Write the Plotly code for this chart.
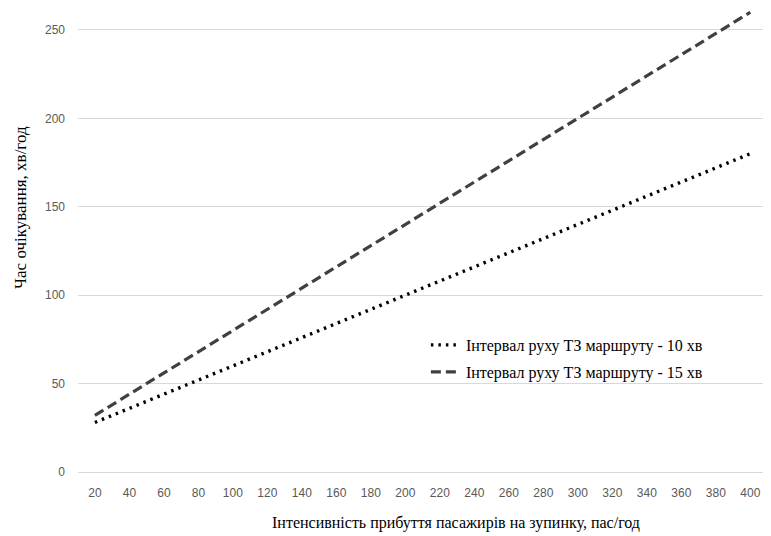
import plotly.graph_objects as go

categories = [20, 40, 60, 80, 100, 120, 140, 160, 180, 200, 220, 240, 260, 280, 300, 320, 340, 360, 380, 400]
interval_10 = [28, 36, 44, 52, 60, 68, 76, 84, 92, 100, 108, 116, 124, 132, 140, 148, 156, 164, 172, 180]
interval_15 = [32, 44, 56, 68, 80, 92, 104, 116, 128, 140, 152, 164, 176, 188, 200, 212, 224, 236, 248, 260]
y_ticks = [0, 50, 100, 150, 200, 250]

cat_labels = [str(c) for c in categories]

fig = go.Figure()
fig.add_trace(go.Scatter(
    x=cat_labels, y=interval_10, mode="lines",
    name="Інтервал руху ТЗ маршруту - 10 хв",
    line=dict(color="#000000", width=3.4, dash="2.5px,5px"),
    legend="legend",
))
fig.add_trace(go.Scatter(
    x=cat_labels, y=interval_15, mode="lines",
    name="Інтервал руху ТЗ маршруту - 15 хв",
    line=dict(color="#404040", width=3.2, dash="10px,5px"),
    legend="legend2",
))

tick_font = dict(family="Liberation Sans, Arial, sans-serif", size=12, color="#595959")
serif = "Liberation Serif, Times New Roman, serif"
leg_font = dict(family=serif, size=16, color="#000000")

PW, PH = 693, 464  # plot area size in px

# page body has an 8px margin, so the figure is sized 8px smaller
fig.update_layout(
    width=763, height=528,
    margin=dict(l=70, r=0, t=0, b=64),
    paper_bgcolor="white", plot_bgcolor="white",
    showlegend=True,
    legend=dict(x=0.502, y=(472 - 345) / PH, xanchor="left", yanchor="middle", font=leg_font,
                bgcolor="rgba(0,0,0,0)", itemwidth=30),
    legend2=dict(x=0.502, y=(472 - 372) / PH, xanchor="left", yanchor="middle", font=leg_font,
                 bgcolor="rgba(0,0,0,0)", itemwidth=30),
    xaxis=dict(
        type="category", range=[-0.49, 19.6], automargin=False,
        showgrid=False, zeroline=False, showline=False,
        ticks="", tickfont=tick_font, ticklabelstandoff=12,
    ),
    yaxis=dict(
        range=[0, 262.4], tickvals=y_ticks, automargin=False,
        showgrid=True, gridcolor="#d9d9d9", gridwidth=1,
        zeroline=True, zerolinecolor="#d9d9d9", zerolinewidth=1,
        showline=False, ticks="", tickfont=tick_font, ticklabelstandoff=12,
    ),
    annotations=[
        dict(text="Час очікування, хв/год", xref="paper", yref="paper",
             x=-58 / PW, y=(472 - 208) / PH, xanchor="center", yanchor="middle",
             textangle=-90, showarrow=False,
             font=dict(family=serif, size=17, color="#000000")),
        dict(text="Інтенсивність прибуття пасажирів на зупинку, пас/год", xref="paper", yref="paper",
             x=(456 - 78) / PW, y=-51 / PH, xanchor="center", yanchor="middle",
             showarrow=False,
             font=dict(family=serif, size=16, color="#000000")),
    ],
)

fig.write_html("out.html")
